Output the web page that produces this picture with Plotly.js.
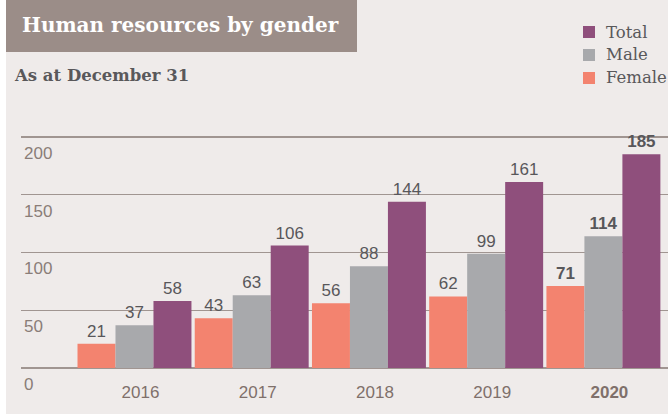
<!DOCTYPE html>
<html>
<head>
<meta charset="utf-8">
<script src="https://cdn.plot.ly/plotly-3.0.1.min.js"></script>
<style>html,body{margin:0;padding:0;background:#ffffff;}#chart{width:668px;height:414px;}</style>
</head>
<body>
<div id="chart"></div>
<script>
const years = ["2016", "2017", "2018", "2019", "2020"];
const female = [21, 43, 56, 62, 71];
const male = [37, 63, 88, 99, 114];
const total = [58, 106, 144, 161, 185];
const yTicks = [0, 50, 100, 150, 200];
const highlightYear = "2020";
const seriesNames = ["Female", "Male", "Total"];
const seriesColors = ["#f3836f", "#a8a9ac", "#8f4f7c"];

const NUM_FONT = "Liberation Sans, Arial, sans-serif";
const SERIF = "DejaVu Serif, serif";

function labels(vals) {
  return vals.map((v, i) => years[i] === highlightYear ? "<b>" + v + "</b>" : String(v));
}

function mk(i, vals) {
  return {
    type: "bar", name: seriesNames[i], x: years, y: vals,
    marker: {color: seriesColors[i], line: {width: 0}},
    text: labels(vals), textposition: "outside", cliponaxis: false,
    constraintext: "none",
    textfont: {family: NUM_FONT, size: 17, color: "#58575a"},
    hoverinfo: "skip", showlegend: false
  };
}

const data = [mk(0, female), mk(1, male), mk(2, total)];

// pixel helpers: plot area x 21..668, y 120..368
const PL = 21, PW = 647, PT = 120, PH = 248;
const px = x => (x - PL) / PW;
const py = y => (PT + PH - y) / PH;

const shapes = [
  {type: "rect", xref: "paper", yref: "paper", x0: px(6), x1: px(668), y0: py(414), y1: py(0),
   fillcolor: "#efebea", line: {width: 0}, layer: "below"},
  {type: "rect", xref: "paper", yref: "paper", x0: px(6), x1: px(357), y0: py(52), y1: py(0),
   fillcolor: "#9b8d88", line: {width: 0}, layer: "below"}
];
const annotations = [
  {xref: "paper", yref: "paper", x: px(20), y: py(25), xanchor: "left", yanchor: "middle",
   text: "<b>Human resources by gender</b>", showarrow: false,
   font: {family: SERIF, size: 20, color: "#ffffff"}},
  {xref: "paper", yref: "paper", x: px(12), y: py(76), xanchor: "left", yanchor: "middle",
   text: "<b>As at December 31</b>", showarrow: false,
   font: {family: SERIF, size: 16.5, color: "#59585a"}}
];
// legend (Total, Male, Female from top)
const legendOrder = [2, 1, 0];
legendOrder.forEach((si, k) => {
  const cy = 32 + k * 23;
  shapes.push({type: "rect", xref: "paper", yref: "paper",
    x0: px(583), x1: px(595), y0: py(cy + 6), y1: py(cy - 6),
    fillcolor: seriesColors[si], line: {width: 0}});
  annotations.push({xref: "paper", yref: "paper", x: px(604), y: py(cy),
    xanchor: "left", yanchor: "middle", text: seriesNames[si], showarrow: false,
    font: {family: SERIF, size: 16.5, color: "#59585a"}});
});

const layout = {
  width: 668, height: 414,
  margin: {l: PL, r: 0, t: PT, b: 414 - PT - PH, pad: 0, autoexpand: false},
  paper_bgcolor: "#ffffff",
  plot_bgcolor: "rgba(0,0,0,0)",
  barmode: "group", bargap: 0.028, bargroupgap: 0,
  showlegend: false,
  xaxis: {
    type: "category", range: [-0.968, 4.551],
    tickmode: "array", tickvals: years,
    ticktext: years.map(y => y === highlightYear ? "<b>" + y + "</b>" : y),
    tickfont: {family: NUM_FONT, size: 17, color: "#7f706b"},
    ticks: "", showline: false, showgrid: false, zeroline: false,
    ticklabelshift: 6, ticklabelstandoff: 12
  },
  yaxis: {
    range: [0, 214.7], tickmode: "array", tickvals: yTicks,
    ticktext: yTicks.map(String),
    tickfont: {family: NUM_FONT, size: 17, color: "#8a7d78"},
    ticklabelposition: "inside", ticklabelshift: 16, ticklabelstandoff: 0,
    ticklabeloverflow: "allow",
    showgrid: true, gridcolor: "#a09591", gridwidth: 1.3,
    zeroline: true, zerolinecolor: "#a09591", zerolinewidth: 1.3,
    showline: false, ticks: ""
  },
  shapes: shapes,
  annotations: annotations
};

Plotly.newPlot("chart", data, layout, {staticPlot: true, displayModeBar: false});
</script>
</body>
</html>
